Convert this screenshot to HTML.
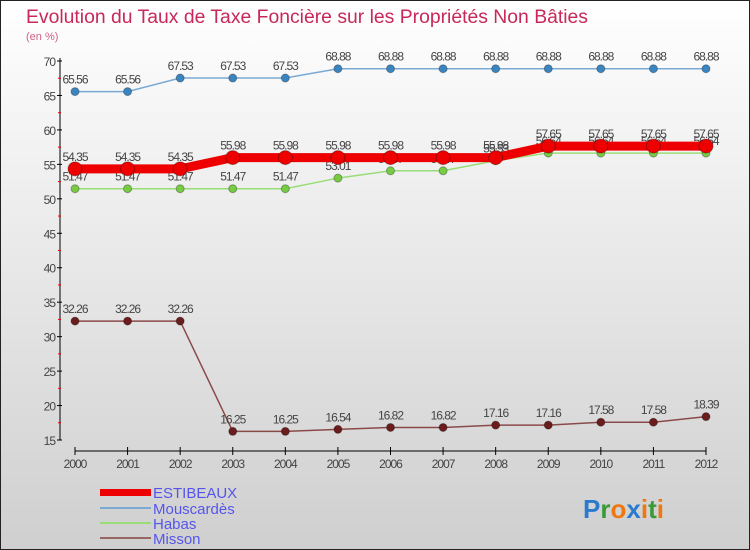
<!DOCTYPE html>
<html><head><meta charset="utf-8"><style>
body{margin:0}
#c{width:750px;height:550px;position:relative;overflow:hidden;font-family:"Liberation Sans",sans-serif}
</style></head><body>
<div id="c">
<svg width="750" height="550" xmlns="http://www.w3.org/2000/svg" id="svg">
<defs><linearGradient id="bg" x1="0" y1="0" x2="0" y2="1"><stop offset="0" stop-color="#ffffff"/><stop offset="1" stop-color="#cfcfcf"/></linearGradient></defs>
<rect x="0.5" y="0.5" width="749" height="549" fill="url(#bg)" stroke="#222"/>
<text x="26" y="23" font-size="19" fill="#c8285a" textLength="562" lengthAdjust="spacingAndGlyphs">Evolution du Taux de Taxe Foncière sur les Propriétés Non Bâties</text>
<text x="26" y="40" font-size="11" fill="#d2608a">(en %)</text>
<g id="axes"></g><g id="series"></g>
<g font-size="15" fill="#5555ee">
<rect x="100" y="489" width="51" height="7" fill="#e00"/>
<text x="153" y="498">ESTIBEAUX</text>
<rect x="100" y="507" width="51" height="2" fill="#7aaad4"/>
<text x="153" y="514">Mouscardès</text>
<rect x="100" y="522" width="51" height="2" fill="#99dd77"/>
<text x="153" y="529">Habas</text>
<rect x="100" y="537" width="51" height="2" fill="#996666"/>
<text x="153" y="544">Misson</text>
</g>
<text x="583" y="518" font-size="26" font-weight="bold"><tspan fill="#2a7bd0">P</tspan><tspan fill="#3a9a3a">r</tspan><tspan fill="#ee7711">o</tspan><tspan fill="#2a7bd0">x</tspan><tspan fill="#ee7711">i</tspan><tspan fill="#3a9a3a">t</tspan><tspan fill="#ee7711">i</tspan></text>
</svg>
</div>
<script>
const years=[2000,2001,2002,2003,2004,2005,2006,2007,2008,2009,2010,2011,2012];
const yTicks=[15,20,25,30,35,40,45,50,55,60,65,70];
const estibeaux=[54.35,54.35,54.35,55.98,55.98,55.98,55.98,55.98,55.98,57.65,57.65,57.65,57.65];
const mouscardes=[65.56,65.56,67.53,67.53,67.53,68.88,68.88,68.88,68.88,68.88,68.88,68.88,68.88];
const habas=[51.47,51.47,51.47,51.47,51.47,53.01,54.07,54.07,55.53,56.64,56.64,56.64,56.64];
const misson=[32.26,32.26,32.26,16.25,16.25,16.54,16.82,16.82,17.16,17.16,17.58,17.58,18.39];
const NS="http://www.w3.org/2000/svg";
const xs=i=>75+i*(706-75)/12;
const ys=v=>440-(v-15)*(440-61)/55;
function mk(tag,attrs,parent,txt){const e=document.createElementNS(NS,tag);for(const k in attrs)e.setAttribute(k,attrs[k]);if(txt!==undefined)e.textContent=txt;parent.appendChild(e);return e;}
const ax=document.getElementById('axes');
let e=mk('line',{x1:60,y1:58,x2:60,y2:440,stroke:'#000'},ax);


e=mk('line',{x1:75,y1:451,x2:706,y2:451,stroke:'#000'},ax);


yTicks.forEach(t=>{const y=ys(t);
 mk('line',{x1:57,y1:y,x2:62,y2:y,stroke:'#000'},ax);
 if(t<70)mk('line',{x1:58,y1:ys(t+2.5),x2:61,y2:ys(t+2.5),stroke:'#e00'},ax);
 const l=mk('text',{x:55,y:y+5,'font-size':12,fill:'#444','text-anchor':'end','letter-spacing':'-1'},ax,t);
 
 });
years.forEach((yr,i)=>{const x=xs(i);
 mk('line',{x1:x,y1:447,x2:x,y2:455,stroke:'#000'},ax);
 const l=mk('text',{x:x,y:468,'font-size':12,fill:'#444','text-anchor':'middle','letter-spacing':'-1'},ax,yr);
 
 });
const sg=document.getElementById('series');
function series(vals,color,dot,w,r,name){
 const g=mk('g',{},sg);
 
 
 const p=mk('polyline',{points:vals.map((v,i)=>xs(i)+','+ys(v)).join(' '),fill:'none',stroke:color,'stroke-width':w},g);
 
 
 vals.forEach((v,i)=>{
  const c=mk('circle',{cx:xs(i),cy:ys(v),r:r,fill:dot,stroke:'rgba(0,0,0,0.3)'},g);
  
  
  const t=mk('text',{x:xs(i),y:ys(v)-8,'font-size':12,fill:'#444','text-anchor':'middle','letter-spacing':'-1'},g,v.toFixed(2).replace(/\.?0+$/,''));
  
  
 });
}
series(misson,'#8a4a4a','#6b1c1c',1.5,4,'misson');
series(habas,'#99dd77','#77cc44',1.5,4,'habas');
series(mouscardes,'#7aaad4','#3a85c0',1.5,4,'mouscardes');
series(estibeaux,'#ee0000','#ee0000',9,7,'estibeaux');
</script>
</body></html>
